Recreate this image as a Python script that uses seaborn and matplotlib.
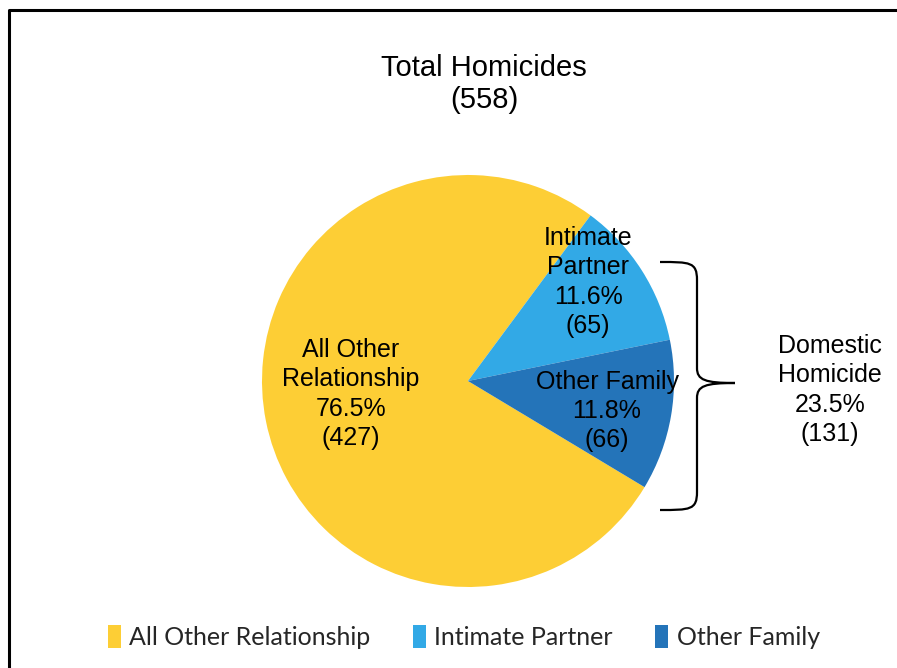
import matplotlib
matplotlib.use("Agg")
import matplotlib.pyplot as plt
from matplotlib.path import Path
from matplotlib.patches import PathPatch
import seaborn as sns

categories = ["All Other Relationship", "Intimate Partner", "Other Family"]
counts = [427, 65, 66]
percents = ["76.5%", "11.6%", "11.8%"]
label_names = ["All Other\nRelationship", "Intimate\nPartner", "Other Family"]
total_label = "Total Homicides\n(558)"
domestic_label = "Domestic\nHomicide\n23.5%\n(131)"

sns.set_theme(style="white")
plt.rcParams['font.family'] = ['Liberation Sans', 'DejaVu Sans']
colors = sns.color_palette(["#FDCE35", "#32A9E6", "#2474B9"])

W, H = 897, 668
fig = plt.figure(figsize=(W / 100, H / 100), dpi=100)
ax = fig.add_axes([0, 0, 1, 1])

def py(y):
    return H - y

cx, cy, r = 468, py(381), 206
total = sum(counts)
start = 53.5 + 360 * counts[0] / total
wedges, _ = ax.pie(counts, colors=colors, startangle=start, counterclock=False,
                   center=(cx, cy), radius=r, frame=False,
                   wedgeprops=dict(linewidth=0))
ax.set_xlim(0, W)
ax.set_ylim(0, H)
ax.set_aspect("equal")
ax.axis("off")

# Wedge labels
label_pos = [(351, 394), (588, 282), (607, 411)]
for (x, y), name, pct, n in zip(label_pos, label_names, percents, counts):
    ax.text(x, py(y), f"{name}\n{pct}\n({n})", ha="center", va="center",
            fontsize=18, color="black", linespacing=1.27)

# Title
ax.text(484, py(84), total_label, ha="center", va="center", fontsize=21,
        color="black", linespacing=1.22)

# Bracket
verts = [(660, 262), (690, 262), (697, 262), (697, 280),
         (697, 368),
         (697, 380), (705, 383), (735, 383),
         (705, 383), (697, 386), (697, 398),
         (697, 492),
         (697, 510), (690, 510), (660, 510)]
codes = [Path.MOVETO, Path.CURVE4, Path.CURVE4, Path.CURVE4,
         Path.LINETO,
         Path.CURVE4, Path.CURVE4, Path.CURVE4,
         Path.CURVE4, Path.CURVE4, Path.CURVE4,
         Path.LINETO,
         Path.CURVE4, Path.CURVE4, Path.CURVE4]
verts = [(x, py(y)) for x, y in verts]
ax.add_patch(PathPatch(Path(verts, codes), facecolor="none", edgecolor="black", lw=1.6))

ax.text(830, py(390), domestic_label, ha="center", va="center", fontsize=18,
        color="black", linespacing=1.27)

# Border (cropped rectangle)
ax.plot([9, 9, W], [0, py(10), py(10)], color="black", lw=2.2, solid_capstyle="butt",
        clip_on=False)

# Legend
leg = ax.legend(wedges, categories, loc="center", bbox_to_anchor=(464 / W, 1 - 637 / H),
                ncol=3, frameon=False, handlelength=0.5, handleheight=1.0,
                handletextpad=0.35, columnspacing=1.7,
                prop={"family": ["Lato", "DejaVu Sans"], "size": 18})

fig.savefig("out.png", dpi=100)
